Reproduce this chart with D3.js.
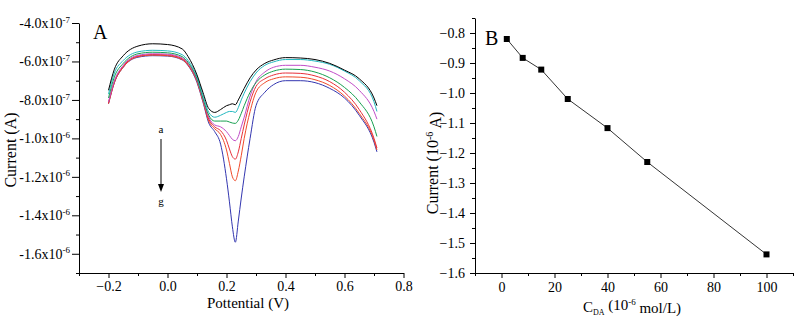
<!DOCTYPE html>
<html lang="en">
<head>
<meta charset="UTF-8">
<title>DA voltammograms and calibration</title>
<script src="https://d3js.org/d3.v7.min.js"></script>
<style>
    body { margin: 0; background: #fff; }
    svg, svg text { font-family: "Liberation Serif", "Times New Roman", serif; }
    .axis path, .axis line { stroke: #000; stroke-width: 1px; }
    .axis text { font-size: 14px; fill: #000; font-family: "Liberation Serif", serif; }
    .curve { fill: none; stroke-width: 1px; }
</style>
</head>
<body>
<svg id="chart" width="796" height="320"></svg>
<script>
// panel A: potential (V) and currents in units of 1e-7 A, curves a..g
const potential = [-0.2, -0.18, -0.15, -0.1, -0.05, 0, 0.05, 0.07, 0.1, 0.12, 0.14, 0.16, 0.18, 0.2, 0.21, 0.22, 0.23, 0.24, 0.25, 0.26, 0.28, 0.3, 0.33, 0.36, 0.4, 0.45, 0.5, 0.55, 0.6, 0.65, 0.7, 0.71];
const curveA = [-7.5, -6.4, -5.7, -5.2, -5.08, -5.12, -5.35, -5.75, -6.7, -7.6, -8.45, -8.65, -8.5, -8.3, -8.25, -8.2, -8.25, -8.0, -7.7, -7.4, -6.85, -6.45, -6.1, -5.92, -5.8, -5.82, -5.9, -6.1, -6.45, -6.9, -7.9, -8.3];
const curveB = [-7.7, -6.6, -5.95, -5.5, -5.42, -5.45, -5.65, -5.95, -6.8, -7.75, -8.65, -8.9, -8.8, -8.65, -8.6, -8.6, -8.65, -8.4, -8.0, -7.65, -7.05, -6.6, -6.2, -6.02, -5.9, -5.9, -5.98, -6.15, -6.5, -7.0, -8.1, -8.6];
const curveC = [-7.9, -6.8, -6.1, -5.6, -5.52, -5.55, -5.75, -6.05, -6.9, -7.9, -8.8, -9.1, -9.1, -9.1, -9.15, -9.2, -9.22, -9.05, -8.7, -8.3, -7.6, -7.1, -6.7, -6.5, -6.4, -6.42, -6.55, -6.85, -7.35, -8.1, -9.4, -9.9];
const curveD = [-8.1, -7.0, -6.2, -5.68, -5.6, -5.62, -5.82, -6.1, -6.95, -7.95, -8.9, -9.3, -9.4, -9.65, -9.85, -10.05, -10.12, -9.9, -9.4, -8.9, -7.8, -7.05, -6.55, -6.3, -6.2, -6.2, -6.3, -6.5, -6.9, -7.5, -8.6, -9.0];
const curveE = [-8.15, -7.05, -6.25, -5.72, -5.64, -5.66, -5.86, -6.15, -7.0, -8.0, -9.0, -9.4, -9.6, -10.1, -10.55, -10.95, -11.08, -10.7, -10.0, -9.3, -8.1, -7.3, -6.9, -6.7, -6.6, -6.62, -6.75, -7.05, -7.6, -8.5, -10.0, -10.5];
const curveF = [-8.2, -7.1, -6.3, -5.75, -5.67, -5.7, -5.9, -6.2, -7.05, -8.05, -9.1, -9.5, -9.8, -10.6, -11.3, -12.0, -12.2, -11.7, -10.9, -10.0, -8.6, -7.6, -7.1, -6.9, -6.8, -6.82, -6.95, -7.25, -7.8, -8.7, -10.1, -10.6];
const curveG = [-8.2, -7.1, -6.3, -5.78, -5.7, -5.72, -5.92, -6.22, -7.1, -8.1, -9.2, -9.65, -10.3, -12.1, -13.3, -14.6, -15.4, -14.3, -13.1, -12.0, -10.0, -8.3, -7.6, -7.2, -7.0, -7.0, -7.1, -7.4, -7.9, -8.8, -10.2, -10.7];
const curveColors = ["#000000", "#22b8c0", "#17a050", "#c04cc8", "#e8303a", "#f04a2a", "#3336b0"];

const yTicksA = [-4e-7, -6e-7, -8e-7, -1e-6, -1.2e-6, -1.4e-6, -1.6e-6];
const yTickMant = ["-4.0", "-6.0", "-8.0", "-1.0", "-1.2", "-1.4", "-1.6"];
const yTickExp = ["-7", "-7", "-7", "-6", "-6", "-6", "-6"];
const xTicksA = [-0.2, 0.0, 0.2, 0.4, 0.6, 0.8];

// panel B: calibration
const conc = [2, 8, 15, 25, 40, 55, 100];
const peakCurrent = [-0.82, -0.883, -0.922, -1.02, -1.117, -1.23, -1.538];
const yTicksB = [-0.8, -0.9, -1.0, -1.1, -1.2, -1.3, -1.4, -1.5, -1.6];
const xTicksB = [0, 20, 40, 60, 80, 100];

const svg = d3.select("#chart");

// ---------- panel A ----------
const xA = d3.scaleLinear().domain([-0.3, 0.8]).range([79, 403.5]);
const yA = d3.scaleLinear().domain([-1.7e-6, -4e-7]).range([273, 23]);

const gA = svg.append("g");

const minorYA = d3.range(-17, -3.5, 1).map(v => v * 1e-7).filter(v => !yTicksA.some(t => Math.abs(t - v) < 1e-12));
gA.append("g").attr("class", "axis")
    .attr("transform", "translate(79,0)")
    .call(d3.axisLeft(yA).tickValues(minorYA).tickSize(3).tickFormat(""))
    .call(g => g.select(".domain").remove());
const yAxisA = gA.append("g").attr("class", "axis")
    .attr("transform", "translate(79,0)")
    .call(d3.axisLeft(yA).tickValues(yTicksA).tickSize(7).tickSizeOuter(0).tickFormat(""));
yAxisA.selectAll(".tick").append("text")
    .attr("x", -9).attr("dy", "0.32em")
    .attr("text-anchor", "end")
    .each(function(d, i) {
        const t = d3.select(this);
        t.append("tspan").text(yTickMant[i] + "x10");
        t.append("tspan").attr("dy", "-0.6em").attr("font-size", "9px").text(yTickExp[i]);
    });

const minorXA = d3.range(-3, 9, 1).map(v => v / 10).filter(v => !xTicksA.some(t => Math.abs(t - v) < 1e-9));
gA.append("g").attr("class", "axis")
    .attr("transform", "translate(0,273)")
    .call(d3.axisBottom(xA).tickValues(minorXA).tickSize(3).tickFormat(""))
    .call(g => g.select(".domain").remove());
gA.append("g").attr("class", "axis")
    .attr("transform", "translate(0,273)")
    .call(d3.axisBottom(xA).tickValues(xTicksA).tickSize(5).tickSizeOuter(0).tickPadding(3).tickFormat(d3.format(".1f")));

const series = [curveA, curveB, curveC, curveD, curveE, curveF, curveG];
const lineA = d3.line()
    .x((d, i) => xA(potential[i]))
    .y(d => yA(d * 1e-7))
    .curve(d3.curveMonotoneX);
gA.selectAll(".curve").data(series.slice().reverse()).enter().append("path")
    .attr("class", "curve")
    .attr("stroke", (d, i) => curveColors[series.length - 1 - i])
    .attr("d", lineA);

gA.append("text").attr("x", 93).attr("y", 39).attr("font-size", "20px").text("A");
gA.append("text").attr("x", 161).attr("y", 133).attr("font-size", "11px").attr("text-anchor", "middle").text("a");
gA.append("line").attr("x1", 161).attr("x2", 161).attr("y1", 139).attr("y2", 186).attr("stroke", "#000");
gA.append("path").attr("d", "M158,184 L164,184 L161,192 Z").attr("fill", "#000");
gA.append("text").attr("x", 161).attr("y", 205).attr("font-size", "11px").attr("text-anchor", "middle").text("g");

gA.append("text").attr("x", 248).attr("y", 308).attr("font-size", "15px").attr("text-anchor", "middle").text("Pottential (V)");
gA.append("text").attr("transform", "translate(16,150) rotate(-90)").attr("font-size", "16px").attr("text-anchor", "middle").text("Current (A)");

// ---------- panel B ----------
const xB = d3.scaleLinear().domain([-10, 110]).range([475, 793]);
const yB = d3.scaleLinear().domain([-1.6, -0.75]).range([273, 18]);
const gB = svg.append("g");

gB.append("g").attr("class", "axis")
    .attr("transform", "translate(475,0)")
    .call(d3.axisLeft(yB).tickValues(d3.range(-155, -74, 10).map(v => v / 100)).tickSize(3).tickFormat(""))
    .call(g => g.select(".domain").remove());
gB.append("g").attr("class", "axis")
    .attr("transform", "translate(475,0)")
    .call(d3.axisLeft(yB).tickValues(yTicksB).tickSize(5).tickSizeOuter(0).tickPadding(5).tickFormat(d3.format(".1f")));

gB.append("g").attr("class", "axis")
    .attr("transform", "translate(0,273)")
    .call(d3.axisBottom(xB).tickValues(d3.range(-10, 111, 20)).tickSize(3).tickFormat(""))
    .call(g => g.select(".domain").remove());
gB.append("g").attr("class", "axis")
    .attr("transform", "translate(0,273)")
    .call(d3.axisBottom(xB).tickValues(xTicksB).tickSize(5).tickSizeOuter(0).tickPadding(4).tickFormat(d3.format("d")));

const calib = conc.map((c, i) => ({ c: c, v: peakCurrent[i] }));
gB.append("path").datum(calib)
    .attr("fill", "none").attr("stroke", "#000").attr("stroke-width", 0.8)
    .attr("d", d3.line().x(d => xB(d.c)).y(d => yB(d.v)));
gB.selectAll(".pt").data(calib).enter().append("rect")
    .attr("class", "pt")
    .attr("x", d => xB(d.c) - 3).attr("y", d => yB(d.v) - 3)
    .attr("width", 6).attr("height", 6).attr("fill", "#000");

gB.append("text").attr("x", 485).attr("y", 45).attr("font-size", "20px").text("B");

const yLabB = gB.append("text").attr("transform", "translate(438,163) rotate(-90)").attr("font-size", "16px").attr("text-anchor", "middle");
yLabB.append("tspan").text("Current (10");
yLabB.append("tspan").attr("dy", "-0.5em").attr("font-size", "10px").text("-6");
yLabB.append("tspan").attr("dy", "0.5em").text(" A)");

const xLabB = gB.append("text").attr("x", 632).attr("y", 312).attr("font-size", "15px").attr("text-anchor", "middle");
xLabB.append("tspan").text("C");
xLabB.append("tspan").attr("dy", "0.35em").attr("font-size", "8px").text("DA");
xLabB.append("tspan").attr("dy", "-0.35em").text("  (10");
xLabB.append("tspan").attr("dy", "-0.5em").attr("font-size", "9px").text("-6");
xLabB.append("tspan").attr("dy", "0.5em").text(" mol/L)");
</script>
</body>
</html>
